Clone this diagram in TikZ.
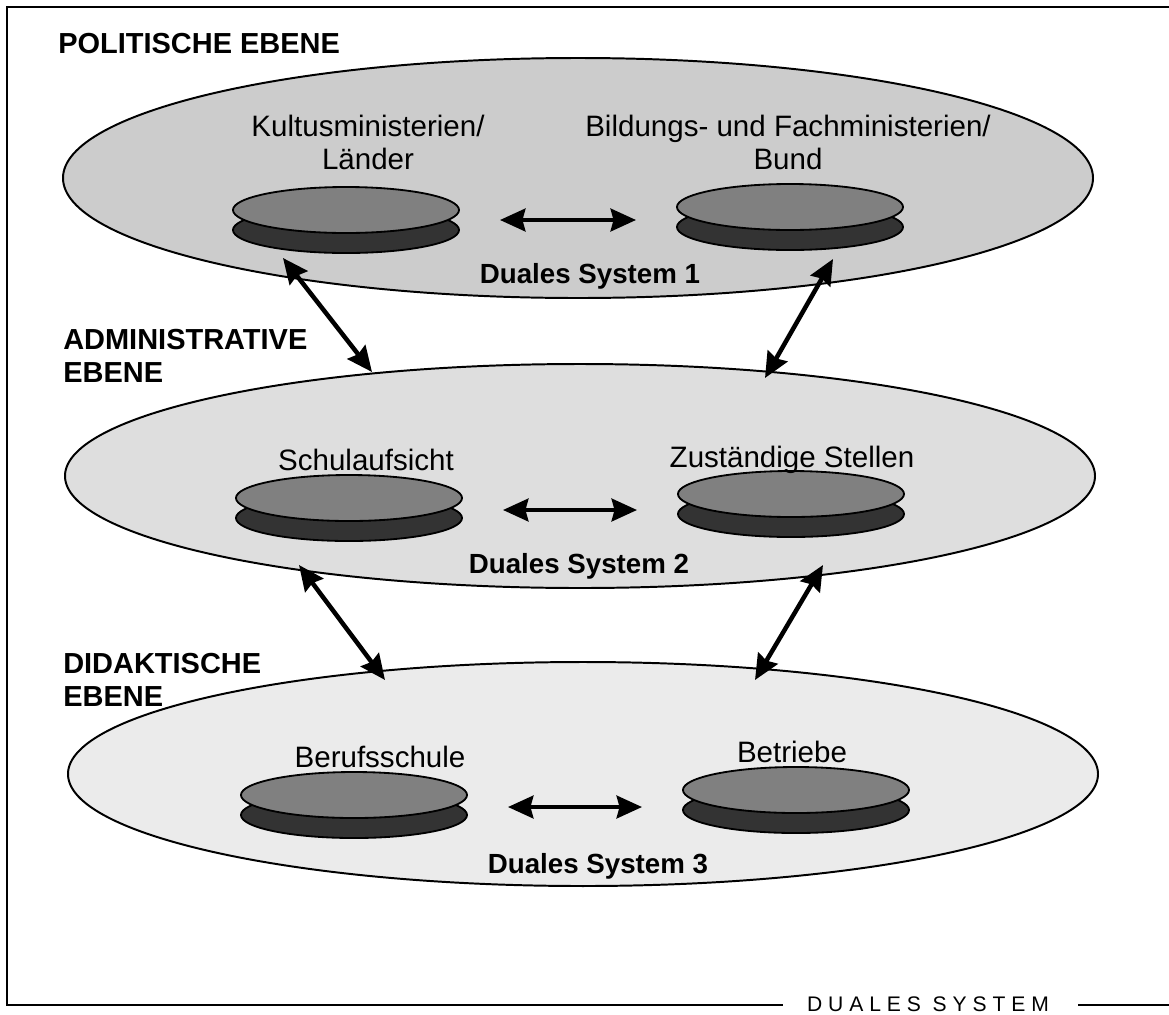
\documentclass[tikz,border=0pt]{standalone}
\usepackage{fontspec}
\setmainfont{Liberation Sans}
\usetikzlibrary{arrows.meta, shapes.geometric, shadows}

\begin{document}
\begin{tikzpicture}[x=0.025cm, y=-0.025cm,
  >={Stealth[length=18pt, width=16pt, inset=2pt]},
  ebene/.style={draw, line width=1.4pt},
  scheibe/.style={ellipse, draw, line width=1.3pt, fill=black!50,
    minimum width=5.65cm, minimum height=1.15cm, inner sep=0pt,
    general shadow={shadow yshift=-0.5cm, fill=black!80, draw=black, line width=1.3pt}},
  pfeil/.style={<->, line width=3.2pt},
  titel/.style={font=\fontsize{20.6}{22.8}\selectfont\bfseries, align=left, anchor=base west, inner sep=0pt},
  beschrift/.style={font=\fontsize{21}{22.8}\selectfont, align=center, anchor=base, inner sep=0pt},
  dualtext/.style={font=\fontsize{19.7}{22}\selectfont\bfseries, anchor=base, inner sep=0pt}]
  \useasboundingbox (0,0) rectangle (1169,1014);
  % Rahmen
  \draw[line width=2pt] (1169,7) -- (7,7) -- (7,1005) -- (783,1005);
  \draw[line width=2pt] (1078,1005) -- (1169,1005);
  \node[font=\fontsize{15}{17}\selectfont, anchor=base, inner sep=0pt] (fuss) at (928,1011)
    {\addfontfeature{LetterSpace=28}DUALES SYSTEM};
  % drei Ebenen
  \draw[ebene, fill=black!20] (578,178) ellipse [x radius=515, y radius=120];
  \draw[ebene, fill=black!13] (580,476) ellipse [x radius=515, y radius=112];
  \draw[ebene, fill=black!8] (583,774) ellipse [x radius=515, y radius=112];
  \node[titel] (pol) at (58,53) {POLITISCHE EBENE};
  \node[titel] (adm) at (63,382) {ADMINISTRATIVE\\EBENE};
  \node[titel] (did) at (63,706) {DIDAKTISCHE\\EBENE};
  % Scheiben
  \node[scheibe] (kmk) at (346,210) {};
  \node[scheibe] (bund) at (790,207) {};
  \node[scheibe] (schul) at (349,498) {};
  \node[scheibe] (stell) at (791,494) {};
  \node[scheibe] (beruf) at (354,795) {};
  \node[scheibe] (betr) at (796,790) {};
  \node[beschrift] (tkmk) at (368,169) {Kultusministerien/\\Länder};
  \node[beschrift] (tbund) at (788,169) {Bildungs- und Fachministerien/\\Bund};
  \node[beschrift] (tschul) at (366,470) {Schulaufsicht};
  \node[beschrift] (tstell) at (792,467) {Zuständige Stellen};
  \node[beschrift] (tberuf) at (380,767) {Berufsschule};
  \node[beschrift] (tbetr) at (792,762) {Betriebe};
  \node[dualtext] (ds1) at (590,283) {Duales System 1};
  \node[dualtext] (ds2) at (579,573) {Duales System 2};
  \node[dualtext] (ds3) at (598,873) {Duales System 3};
  % Pfeile zwischen den Ebenen
  \coordinate (a1) at (283,258);
  \coordinate (a2) at (372,372);
  \coordinate (b1) at (833,259);
  \coordinate (b2) at (765,378);
  \coordinate (c1) at (299,565);
  \coordinate (c2) at (385,680);
  \coordinate (d1) at (823,565);
  \coordinate (d2) at (755,680);
  \draw[pfeil] (a1) -- (a2);
  \draw[pfeil] (b1) -- (b2);
  \draw[pfeil] (c1) -- (c2);
  \draw[pfeil] (d1) -- (d2);
  % Pfeile innerhalb der Ebenen
  \draw[pfeil, shorten <=1cm, shorten >=1cm] ([yshift=-0.25cm]kmk.east) -- ([yshift=-0.25cm]kmk.east -| bund.west);
  \draw[pfeil, shorten <=1cm, shorten >=1cm] ([yshift=-0.3cm]schul.east) -- ([yshift=-0.3cm]schul.east -| stell.west);
  \draw[pfeil, shorten <=1cm, shorten >=1cm] ([yshift=-0.3cm]beruf.east) -- ([yshift=-0.3cm]beruf.east -| betr.west);
\end{tikzpicture}
\end{document}
